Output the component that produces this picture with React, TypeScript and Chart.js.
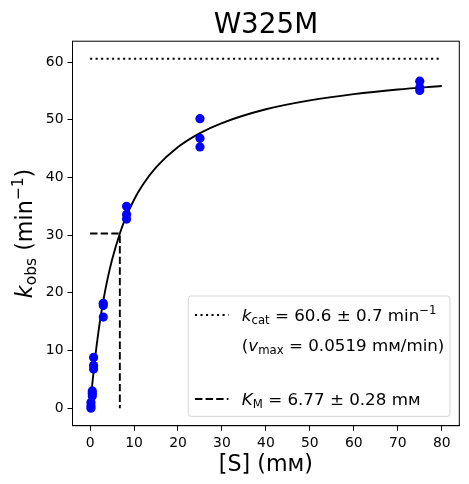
import { useEffect, useRef } from 'react';
import { Chart, registerables } from 'chart.js';

Chart.register(...registerables);

// measured substrate concentrations (mM) and observed rates (min^-1)
const SUBSTRATE = [0.2, 0.2, 0.2, 0.5, 0.5, 0.5, 0.8, 0.8, 0.8, 3, 3, 3, 8.3, 8.3, 8.3, 25, 25, 25, 75, 75, 75];
const KOBS = [0.0, 0.4, 1.0, 2.1, 2.6, 3.0, 6.8, 7.4, 8.8, 15.8, 17.8, 18.2, 32.8, 33.6, 35.0, 45.3, 46.8, 50.2, 55.1, 55.6, 56.7];

// fitted Michaelis-Menten curve
const CURVE_S = [0, 0.5, 1, 2, 3, 4, 5, 6.77, 8, 10, 12, 15, 20, 25, 30, 40, 50, 60, 70, 80];
const CURVE_K = [0, 4.17, 7.8, 13.82, 18.61, 22.51, 25.74, 30.3, 32.82, 36.14, 38.74, 41.75, 45.27, 47.69, 49.44, 51.83, 53.37, 54.46, 55.26, 55.87];

const KCAT = 60.6;
const KM = 6.77;
const S_END = 80;

const X_TICKS = [0, 10, 20, 30, 40, 50, 60, 70, 80];
const Y_TICKS = [0, 10, 20, 30, 40, 50, 60];

const FONT = '"DejaVu Sans"';

type Seg = { t: string; it?: boolean; sub?: boolean; sup?: boolean };

function drawRich(ctx: CanvasRenderingContext2D, segs: Seg[], x: number, y: number, size: number, align: 'left' | 'center') {
  const fontOf = (s: Seg) => {
    const fs = s.sub || s.sup ? size * 0.7 : size;
    return `${s.it ? 'italic ' : ''}${fs}px ${FONT}`;
  };
  const widths = segs.map((s) => {
    ctx.font = fontOf(s);
    return ctx.measureText(s.t).width;
  });
  const total = widths.reduce((a, b) => a + b, 0);
  let cx = align === 'center' ? x - total / 2 : x;
  ctx.textAlign = 'left';
  ctx.textBaseline = 'alphabetic';
  segs.forEach((s, i) => {
    ctx.font = fontOf(s);
    const dy = s.sub ? size * 0.2 : s.sup ? -size * 0.42 : 0;
    ctx.fillText(s.t, cx, y + dy);
    cx += widths[i];
  });
}

const decorations = {
  id: 'decorations',
  afterDraw(chart: Chart) {
    const ctx = chart.ctx;
    const a = chart.chartArea;
    const midX = (a.left + a.right) / 2;
    ctx.save();
    ctx.fillStyle = '#000';

    // frame
    ctx.strokeStyle = '#000';
    ctx.lineWidth = 1;
    ctx.strokeRect(a.left, a.top, a.right - a.left, a.bottom - a.top);

    // title
    ctx.font = `27.8px ${FONT}`;
    ctx.textAlign = 'center';
    ctx.textBaseline = 'alphabetic';
    ctx.fillText('W325M', midX, a.top - 8.5);

    // x label
    drawRich(ctx, [{ t: '[S] (mᴍ)' }], midX, a.bottom + 45.5, 22.2, 'center');

    // y label
    ctx.save();
    ctx.translate(32, (a.top + a.bottom) / 2);
    ctx.rotate(-Math.PI / 2);
    drawRich(ctx, [{ t: 'k', it: true }, { t: 'obs', sub: true }, { t: ' (min' }, { t: '−1', sup: true }, { t: ')' }], 0, 0, 22.2, 'center');
    ctx.restore();

    // legend
    const bx = 188.3;
    const by = 296;
    const bw = a.right - 9.3 - bx;
    const bh = a.bottom - 9.3 - by;
    ctx.beginPath();
    ctx.roundRect(bx, by, bw, bh, 3);
    ctx.fillStyle = 'rgba(255,255,255,0.8)';
    ctx.fill();
    ctx.strokeStyle = 'rgba(204,204,204,0.8)';
    ctx.stroke();

    const hx0 = bx + 6.7;
    const hx1 = hx0 + 33.4;
    const tx = hx1 + 13.4;
    ctx.strokeStyle = '#000';
    ctx.lineWidth = 2;

    ctx.setLineDash([2.1, 3.4]);
    ctx.beginPath();
    ctx.moveTo(hx0, 315);
    ctx.lineTo(hx1, 315);
    ctx.stroke();

    ctx.setLineDash([7.4, 3.2]);
    ctx.beginPath();
    ctx.moveTo(hx0, 399);
    ctx.lineTo(hx1, 399);
    ctx.stroke();
    ctx.setLineDash([]);

    ctx.fillStyle = '#000';
    drawRich(ctx, [{ t: 'k', it: true }, { t: 'cat', sub: true }, { t: ' = 60.6 ± 0.7 min' }, { t: '−1', sup: true }], tx, 321, 16.7, 'left');
    drawRich(ctx, [{ t: '(' }, { t: 'v', it: true }, { t: 'max', sub: true }, { t: ' = 0.0519 mᴍ/min)' }], tx, 350.5, 16.7, 'left');
    drawRich(ctx, [{ t: 'K', it: true }, { t: 'M', sub: true }, { t: ' = 6.77 ± 0.28 mᴍ' }], tx, 405, 16.7, 'left');

    ctx.restore();
  },
};

export default function App() {
  const canvasRef = useRef<HTMLCanvasElement>(null);
  const chartRef = useRef<Chart | null>(null);

  useEffect(() => {
    document.body.style.margin = '0';
    if (!canvasRef.current) return;
    if (chartRef.current) chartRef.current.destroy();

    const points = SUBSTRATE.map((s, i) => ({ x: s, y: KOBS[i] }));
    const curve = CURVE_S.map((s, i) => ({ x: s, y: CURVE_K[i] }));

    const tickFont = { family: FONT, size: 13.9 };

    chartRef.current = new Chart(canvasRef.current, {
      type: 'scatter',
      data: {
        datasets: [
          {
            label: 'data',
            data: points,
            backgroundColor: '#0000ff',
            borderColor: '#0000ff',
            borderWidth: 0,
            pointRadius: 4.6,
            order: 0,
          },
          {
            label: 'fit',
            data: curve,
            showLine: true,
            borderColor: '#000',
            borderWidth: 1.9,
            pointRadius: 0,
            cubicInterpolationMode: 'monotone',
            order: 1,
          },
          {
            label: 'kcat',
            data: [
              { x: 0, y: KCAT },
              { x: S_END, y: KCAT },
            ],
            showLine: true,
            borderColor: '#000',
            borderWidth: 1.9,
            borderDash: [2.1, 3.4],
            pointRadius: 0,
            order: 2,
          },
          {
            label: 'Km',
            data: [
              { x: 0, y: KCAT / 2 },
              { x: KM, y: KCAT / 2 },
              { x: KM, y: 0 },
            ],
            showLine: true,
            borderColor: '#000',
            borderWidth: 1.9,
            borderDash: [7.4, 3.2],
            pointRadius: 0,
            order: 2,
          },
        ],
      },
      options: {
        responsive: true,
        maintainAspectRatio: false,
        animation: false,
        layout: { padding: { top: 41.2, right: 9.7, left: 0, bottom: 0 } },
        plugins: {
          legend: { display: false },
          tooltip: { enabled: false },
        },
        scales: {
          x: {
            type: 'linear',
            min: -4,
            max: 84,
            afterBuildTicks: (s: any) => {
              s.ticks = X_TICKS.map((v) => ({ value: v }));
            },
            afterFit: (s: any) => {
              s.height = 58.3;
            },
            ticks: { color: '#000', font: tickFont, padding: 4, autoSkip: false, maxRotation: 0 },
            grid: { drawOnChartArea: false, tickLength: 5, color: '#000' },
            border: { color: '#000', width: 1 },
          },
          y: {
            type: 'linear',
            min: -3.03,
            max: 63.63,
            afterBuildTicks: (s: any) => {
              s.ticks = Y_TICKS.map((v) => ({ value: v }));
            },
            afterFit: (s: any) => {
              s.width = 72.5;
            },
            ticks: { color: '#000', font: tickFont, padding: 4, autoSkip: false },
            grid: { drawOnChartArea: false, tickLength: 5, color: '#000' },
            border: { color: '#000', width: 1 },
          },
        },
      },
      plugins: [decorations],
    });

    return () => {
      if (chartRef.current) {
        chartRef.current.destroy();
        chartRef.current = null;
      }
    };
  }, []);

  return (
    <div style={{ position: 'relative', width: 469, height: 484 }}>
      <canvas ref={canvasRef}></canvas>
    </div>
  );
}
